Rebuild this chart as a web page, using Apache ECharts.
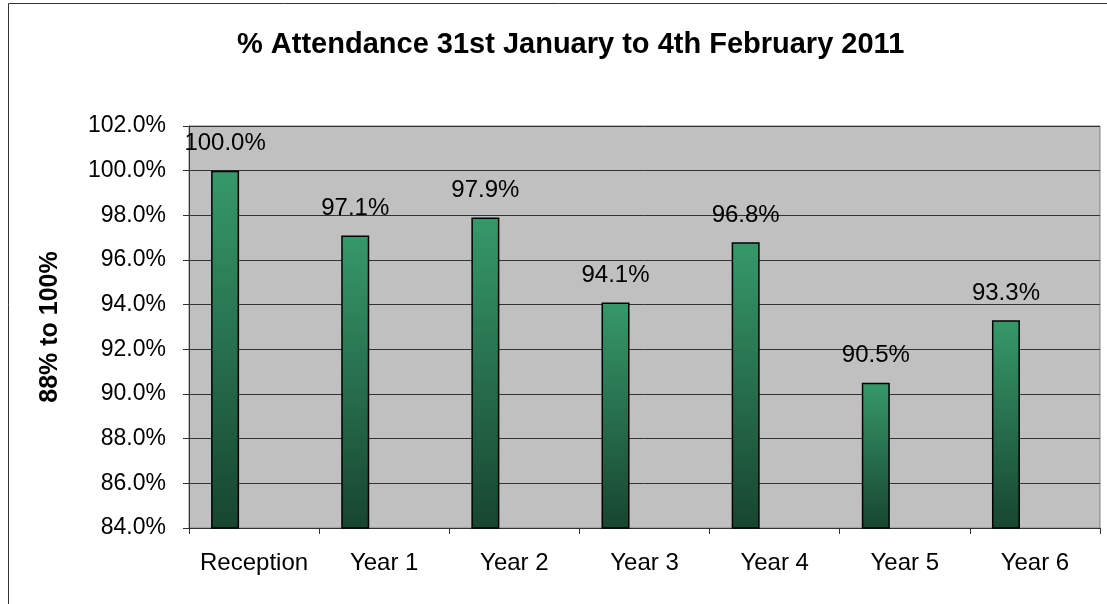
<!DOCTYPE html>
<html><head><meta charset="utf-8">
<script src="https://cdn.jsdelivr.net/npm/echarts@6/dist/echarts.min.js"></script>
<style>html,body{margin:0;padding:0;background:#fff}#c{width:1107px;height:604px}</style>
</head><body><div id="c"></div>
<script>
const categories = ['Reception','Year 1','Year 2','Year 3','Year 4','Year 5','Year 6'];
const attendance = [100.0, 97.1, 97.9, 94.1, 96.8, 90.5, 93.3];
const emptySeries = [null, null, null, null, null, null, null];
const titleText = '% Attendance 31st January to 4th February 2011';
const yAxisName = '88% to 100%';

const chart = echarts.init(document.getElementById('c'));
const font = 'Liberation Sans, Arial, sans-serif';
chart.setOption({
  backgroundColor: '#fff',
  animation: false,
  title: {
    text: titleText, left: 232, top: 25,
    textStyle: { fontFamily: font, fontSize: 29, fontWeight: 'bold', color: '#000' }
  },
  graphic: [{
    type: 'rect', shape: { x: 8.5, y: 3.5, width: 1110, height: 610 },
    style: { fill: 'none', stroke: '#333', lineWidth: 1 }, silent: true, z: -1
  }],
  grid: {
    left: 189, right: 7, top: 126, bottom: 76,
    show: true, backgroundColor: '#C0C0C0', borderColor: '#808080', borderWidth: 1
  },
  xAxis: {
    type: 'category', data: categories,
    axisLine: { lineStyle: { color: '#333', width: 1 } },
    axisTick: { show: true, length: 6, alignWithLabel: false, lineStyle: { color: '#333' } },
    axisLabel: { interval: 0, fontFamily: font, fontSize: 24, color: '#000', margin: 23 }
  },
  yAxis: {
    type: 'value', min: 84, max: 102, interval: 2,
    name: yAxisName, nameLocation: 'middle', nameGap: 126, nameRotate: 90,
    nameTextStyle: { fontFamily: font, fontSize: 25, fontWeight: 'bold', color: '#000' },
    axisLine: { show: true, lineStyle: { color: '#333' } },
    axisTick: { show: true, length: 6, lineStyle: { color: '#333' } },
    axisLabel: { fontFamily: font, fontSize: 23, color: '#000', margin: 23,
      formatter: v => v.toFixed(1) + '%' },
    splitLine: { lineStyle: { color: '#333', width: 1 } }
  },
  series: [{
    type: 'bar', data: attendance, barWidth: 28, barGap: '107%',
    itemStyle: {
      borderColor: '#000', borderWidth: 1.5,
      color: new echarts.graphic.LinearGradient(0, 0, 0, 1, [
        { offset: 0, color: '#36996a' }, { offset: 1, color: '#174530' }
      ])
    },
    label: { show: true, position: 'top', distance: 15, fontFamily: font, fontSize: 24, color: '#000',
      formatter: p => p.value.toFixed(1) + '%' }
  }, {
    type: 'bar', data: emptySeries, barWidth: 28, barGap: '107%'
  }]
});
</script></body></html>
